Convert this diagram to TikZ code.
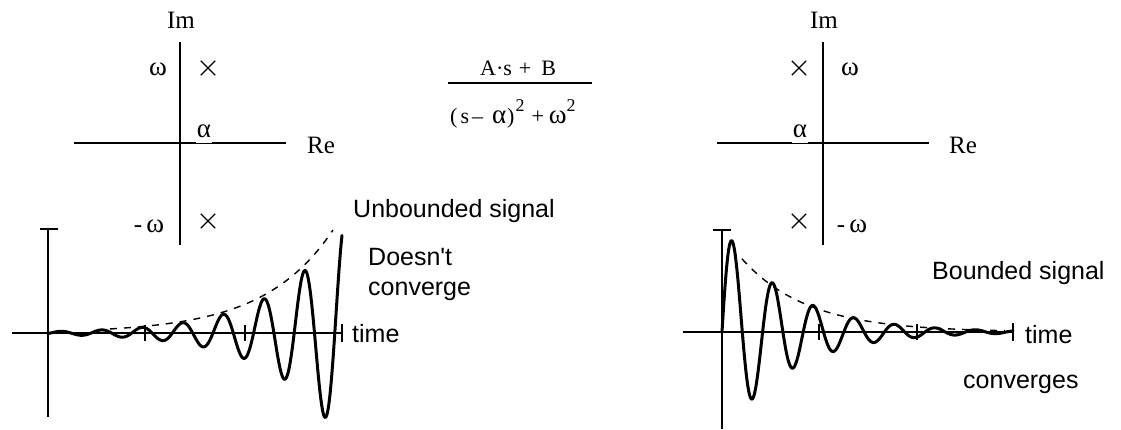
\documentclass[tikz,border=0pt]{standalone}
\usepackage{fontspec}
\setmainfont{Liberation Serif}
\newfontfamily\arial{Liberation Sans}
\usetikzlibrary{shapes.misc}
\newcommand\grk[1]{{\fontsize{27}{30}\selectfont #1}}
\newcommand\supr[1]{\raisebox{12pt}{\fontsize{18}{20}\selectfont #1}}
\tikzset{
  ax/.style={line width=1.3pt},
  tick/.style={line width=1.3pt},
  orig/.style={line width=2.4pt},
  sig/.style={line width=3pt, line join=round, line cap=round},
  env/.style={line width=1.4pt, dash pattern=on 7pt off 7pt},
  serif/.style={font=\fontsize{25}{28}\selectfont, inner sep=0pt},
  frm/.style={font=\fontsize{22}{26}\selectfont, inner sep=0pt},
  sans/.style={font=\arial\fontsize{25}{30}\selectfont, inner sep=0pt},
  pole/.style={draw, cross out, minimum size=13pt, inner sep=0pt, line width=1.3pt},
}
\begin{document}
\begin{tikzpicture}[x=1pt, y=-1pt]
\useasboundingbox (0,0) rectangle (1121,429);

% ---------- left pole-zero plot ----------
\coordinate (LimT) at (180,42);
\coordinate (LimB) at (180,245);
\coordinate (LreL) at (74,143);
\coordinate (LreR) at (286,143);
\draw[ax] (LimT) -- (LimB);
\draw[ax] (LreL) -- (LreR);
\coordinate (Lo) at (180,143);
\draw[orig] ([xshift=-8pt]Lo) -- ([xshift=8pt]Lo);
\draw[orig] ([yshift=-5pt]Lo) -- ([yshift=5pt]Lo);
\node[serif, anchor=base] (Lim) at (181,28) {Im};
\node[serif, anchor=base west] (Lre) at (307,153) {Re};
\node[serif, anchor=base] (Lw) at (158,75) {\grk{ω}};
\node[serif, anchor=base] (Lmw) at (149,232) {-\,\grk{ω}};
\node[serif, anchor=base, fill=white, inner xsep=1pt, inner ysep=5.5pt] (Lal) at (204,137) {\grk{α}};
\node[pole] (Lp1) at (208,68) {};
\node[pole] (Lp2) at (208,221) {};

% ---------- right pole-zero plot ----------
\coordinate (RimT) at (823,42);
\coordinate (RimB) at (823,245);
\coordinate (RreL) at (717,143);
\coordinate (RreR) at (929,143);
\draw[ax] (RimT) -- (RimB);
\draw[ax] (RreL) -- (RreR);
\coordinate (Ro) at (823,143);
\draw[orig] ([xshift=-9pt]Ro) -- ([xshift=9pt]Ro);
\draw[orig] ([yshift=-5pt]Ro) -- ([yshift=5pt]Ro);
\node[serif, anchor=base] (Rim) at (824,28) {Im};
\node[serif, anchor=base west] (Rre) at (949,153) {Re};
\node[serif, anchor=base] (Rw) at (850,75) {\grk{ω}};
\node[serif, anchor=base] (Rmw) at (852,232) {-\,\grk{ω}};
\node[serif, anchor=base, fill=white, inner xsep=1pt, inner ysep=5.5pt] (Ral) at (800,137) {\grk{α}};
\node[pole] (Rp1) at (799,68) {};
\node[pole] (Rp2) at (799,221) {};

% ---------- formula ----------
\node[frm, anchor=base west] (num) at (480,75) {A·s\hspace{7pt}+\hspace{10pt}B};
\coordinate (barL) at (448,83);
\coordinate (barR) at (592,83);
\draw[line width=1.2pt] (barL) -- (barR);
\node[frm, anchor=base west] (den) at (450,123)
  {(\hspace{3pt}s\hspace{3pt}–\hspace{9pt}\grk{α}\hspace{1pt})\hspace{1pt}\supr{2}\hspace{7pt}+\hspace{5pt}\grk{ω}\supr{2}};

% ---------- left time plot ----------
\coordinate (LtT) at (48,229);
\coordinate (LtB) at (48,417);
\coordinate (LtL) at (12,333);
\coordinate (LtR) at (342,333);
\draw[ax] (LtT) -- (LtB);
\draw[ax] ([xshift=-8pt]LtT) -- ([xshift=10pt]LtT);
\draw[ax] (LtL) -- (LtR);
\draw[tick] (145,325) -- (145,341);
\draw[tick] (245,325) -- (245,341);
\draw[tick] ([yshift=-9pt]LtR) -- ([yshift=9pt]LtR);
\draw[env] plot[domain=110:333, samples=120, variable=\t]
  (\t, {333 - 103*exp(0.0145*(\t-333))});
\draw[sig] plot[domain=48:342, samples=600, variable=\t]
  (\t, {333 - 1.4*exp(0.0148*(\t-48))*sin(8.8670*(\t-48) - 23)});
\node[sans, anchor=base west] (Lunb) at (353,217) {Unbounded signal};
\node[sans, anchor=base west] (Ldoes) at (368,265) {Doesn't};
\node[sans, anchor=base west] (Lconv) at (368,295) {converge};
\node[sans, anchor=base west] (Ltime) at (352,342) {time};

% ---------- right time plot ----------
\coordinate (RtT) at (722,230);
\coordinate (RtB) at (722,429);
\coordinate (RtL) at (683,332);
\coordinate (RtR) at (1013,332);
\draw[ax] (RtT) -- (RtB);
\draw[ax] ([xshift=-9pt]RtT) -- ([xshift=9pt]RtT);
\draw[ax] (RtL) -- (RtR);
\draw[tick] (819,324) -- (819,340);
\draw[tick] (917,324) -- (917,340);
\draw[tick] ([yshift=-9pt]RtR) -- ([yshift=9pt]RtR);
\draw[env] plot[domain=742:1005, samples=150, variable=\t]
  (\t, {332 - 72*exp(-0.0152*(\t-743))});
\draw[sig] plot[domain=722:1013, samples=600, variable=\t]
  (\t, {332 - 106*exp(-0.0152*(\t-722))*sin(8.8670*(\t-722))});
\node[sans, anchor=base west] (Rbnd) at (932,279) {Bounded signal};
\node[sans, anchor=base west] (Rtime) at (1025,343) {time};
\node[sans, anchor=base west] (Rconv) at (963,388) {converges};
\end{tikzpicture}
\end{document}
